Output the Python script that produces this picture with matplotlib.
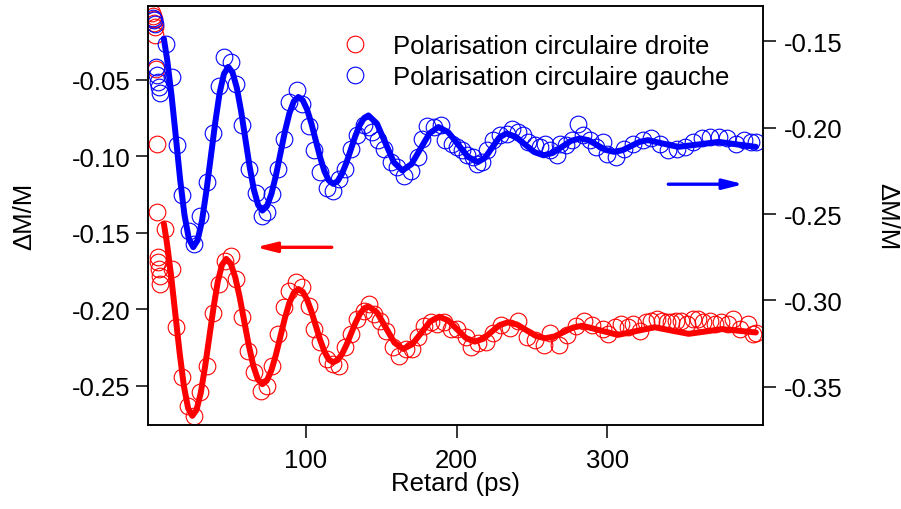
import matplotlib
matplotlib.use('Agg')
import matplotlib.pyplot as plt
from matplotlib.ticker import FormatStrFormatter

plt.rcParams['font.family'] = ['Liberation Sans', 'DejaVu Sans']
plt.rcParams['axes.unicode_minus'] = False

# donnees : retard (ps) et dM/M
# polarisation droite -> axe de gauche
droite_t = [-2.0, -1.6, -1.2, -0.8, -0.4, 0.0, 0.4, 0.8, 1.2, 1.6, 2.0, 2.4, 2.8, 3.2,
            6.3, 10.8, 13.8, 17.8, 21.8, 25.6, 29.6, 34.0, 38.2, 42.2,
            46.2, 50.0, 53.3, 57.7, 61.7, 65.4, 69.9, 73.9, 77.6, 81.6,
            85.4, 88.7, 93.2, 97.5, 102.0, 105.3, 109.3, 113.8, 118.1, 121.9,
            125.7, 129.7, 134.1, 138.5, 141.9, 145.2, 149.0, 153.0, 157.4, 161.8,
            166.3, 170.2, 174.0, 178.4, 182.9, 187.2, 191.7, 196.1, 200.5, 206.2,
            209.6, 214.0, 219.6, 224.1, 229.7, 235.3, 240.9, 246.4, 252.1, 257.7,
            262.1, 267.7, 273.3, 278.9, 284.5, 290.1,
            297.2, 300.5, 305.0, 309.4, 313.8, 317.1, 321.6, 326.0, 329.3, 332.7,
            336.0, 339.3, 342.6, 345.9, 349.2, 352.6, 356.9, 360.3, 363.6, 368.0,
            371.3, 375.8, 380.2, 383.5, 387.9, 393.4, 396.7, 399.0]
droite_v = [-0.0062, -0.0081, -0.0101, -0.0127, -0.0153, -0.0210, -0.0428, -0.0919,
            -0.1366, -0.1660, -0.1693, -0.1737, -0.1781, -0.1835,
            -0.1475, -0.1737, -0.2119, -0.2446, -0.2632, -0.2697, -0.2544, -0.2370, -0.2027, -0.1835,
            -0.1683, -0.1650, -0.1802, -0.2053, -0.2272, -0.2413, -0.2533, -0.2501, -0.2370, -0.2162,
            -0.1988, -0.1879, -0.1824, -0.1857, -0.1977, -0.2130, -0.2217, -0.2326, -0.2359, -0.2370,
            -0.2249, -0.2162, -0.2064, -0.2010, -0.1966, -0.2031, -0.2075, -0.2141, -0.2249, -0.2304,
            -0.2260, -0.2260, -0.2184, -0.2108, -0.2086, -0.2097, -0.2086, -0.2130, -0.2130, -0.2179,
            -0.2245, -0.2223, -0.2212, -0.2157, -0.2102, -0.2124, -0.2080, -0.2179, -0.2201, -0.2234,
            -0.2157, -0.2234, -0.2168, -0.2113, -0.2080, -0.2102,
            -0.2130, -0.2162, -0.2119, -0.2097, -0.2119, -0.2097, -0.2141, -0.2086, -0.2075, -0.2064,
            -0.2075, -0.2086, -0.2086, -0.2075, -0.2075, -0.2097, -0.2064, -0.2064, -0.2086, -0.2075,
            -0.2097, -0.2086, -0.2097, -0.2064, -0.2130, -0.2097, -0.2162, -0.2157]

# ajustement (courbe epaisse) polarisation droite
droite_fit_t = [5.6, 7.6, 10.4, 13.25, 16.1, 18.9, 21.7, 24.5, 27.3, 30.1, 32.9, 35.75,
                38.6, 41.4, 44.2, 47.0, 50.0, 53.0, 56.0, 59.0, 62.0, 65.0, 68.0, 71.0,
                74.0, 77.0, 80.0, 82.95, 85.9, 88.9, 91.9, 94.9, 97.8, 100.7, 103.6, 106.45,
                109.3, 112.2, 115.1, 118.0, 120.9, 123.85, 126.8, 129.7, 132.6, 135.55, 138.5, 141.4,
                147.2, 152.95, 158.7, 164.5, 170.5, 176.45, 182.4, 188.4, 194.3, 200.2, 206.1, 212.0,
                217.5, 223.0, 228.5, 234.0, 240.2, 246.4, 252.6, 258.8, 265.0, 271.1, 277.2, 283.4,
                295.2, 307.0, 319.25, 331.5, 342.75, 354.0, 365.0, 376.0, 387.3, 398.6]
droite_fit_v = [-0.1440, -0.1564, -0.1780, -0.2034, -0.2287, -0.2503, -0.2647, -0.2697,
                -0.2658, -0.2547, -0.2380, -0.2184, -0.1988, -0.1821, -0.1710, -0.1671,
                -0.1702, -0.1791, -0.1924, -0.2081, -0.2237, -0.2370, -0.2459, -0.2490,
                -0.2466, -0.2399, -0.2298, -0.2179, -0.2060, -0.1959, -0.1892, -0.1868,
                -0.1886, -0.1938, -0.2016, -0.2108, -0.2199, -0.2277, -0.2329, -0.2347,
                -0.2333, -0.2294, -0.2234, -0.2164, -0.2094, -0.2034, -0.1995, -0.1981,
                -0.2022, -0.2121, -0.2219, -0.2260, -0.2229, -0.2155, -0.2080, -0.2049,
                -0.2073, -0.2131, -0.2188, -0.2212, -0.2194, -0.2149, -0.2104, -0.2086,
                -0.2101, -0.2138, -0.2175, -0.2190, -0.2178, -0.2149, -0.2120, -0.2108,
                -0.2138, -0.2168, -0.2143, -0.2118, -0.2140, -0.2161, -0.2146, -0.2130,
                -0.2141, -0.2152]

# polarisation gauche -> axe de droite
gauche_t = [-1.6, -1.0, -0.4, 0.4, 1.0, 1.6, 2.2, 2.8,
            6.8, 11.2, 14.1, 17.8, 22.3, 25.6, 29.6, 34.0, 38.2, 42.2,
            45.7, 50.0, 53.7, 57.7, 62.1, 66.6, 70.6, 73.9, 77.6, 81.6,
            85.4, 88.7, 93.8, 97.5, 102.0, 105.3, 109.3, 113.8, 118.1, 121.9,
            125.7, 129.7, 134.1, 138.5, 141.5, 144.0, 148.0, 151.8, 156.3, 160.7,
            165.1, 169.6, 174.0, 177.3, 180.6, 185.0, 189.5,
            192.2, 196.6, 199.9, 203.3, 206.6, 211.0, 213.2, 216.5, 219.8, 224.2,
            228.7, 233.1, 236.4, 240.8, 244.1, 247.4, 251.9, 255.2, 258.5, 261.8,
            266.3, 268.5, 272.9, 276.3, 280.6, 283.9, 288.4, 292.8, 297.2,
            300.1, 305.8, 311.4, 316.9, 323.7, 329.3, 334.8, 340.5, 346.0, 351.6,
            357.2, 362.8, 368.4, 374.0, 379.6, 385.2, 390.8, 395.2, 399.0]
gauche_v = [-0.1365, -0.1378, -0.1397, -0.1648, -0.1697, -0.1735, -0.1764, -0.1797,
            -0.1513, -0.1706, -0.2099, -0.2389, -0.2601, -0.2673, -0.2509, -0.2312, -0.2029, -0.1761,
            -0.1590, -0.1619, -0.1745, -0.1983, -0.2238, -0.2379, -0.2509, -0.2489, -0.2383, -0.2238,
            -0.2064, -0.1851, -0.1784, -0.1861, -0.1993, -0.2128, -0.2257, -0.2350, -0.2364, -0.2296,
            -0.2238, -0.2122, -0.2045, -0.1987, -0.1996, -0.2025, -0.2074, -0.2122, -0.2199, -0.2228,
            -0.2277, -0.2248, -0.2170, -0.2064, -0.1990, -0.1996, -0.1987,
            -0.2074, -0.2093, -0.2112, -0.2132, -0.2161, -0.2170, -0.2209, -0.2199, -0.2132, -0.2074,
            -0.2045, -0.2035, -0.2006, -0.2025, -0.2045, -0.2083, -0.2103, -0.2112, -0.2093, -0.2132,
            -0.2161, -0.2093, -0.2103, -0.2074, -0.1977, -0.2045, -0.2074, -0.2112, -0.2083,
            -0.2150, -0.2170, -0.2121, -0.2092, -0.2072, -0.2062, -0.2092, -0.2131, -0.2121, -0.2111,
            -0.2082, -0.2062, -0.2052, -0.2052, -0.2062, -0.2092, -0.2072, -0.2082, -0.2082]

gauche_fit_t = [5.6, 7.8, 10.7, 13.6, 16.4, 19.3, 22.2, 25.1, 28.0, 30.9, 33.8, 36.75,
                39.7, 42.6, 45.5, 48.4, 51.2, 54.05, 56.9, 59.7, 62.5, 65.35, 68.2, 71.0,
                74.0, 77.0, 80.0, 82.95, 85.9, 88.9, 91.9, 94.9, 97.8, 100.7, 103.6, 106.45,
                109.3, 112.2, 115.1, 118.0, 120.9, 123.85, 126.8, 129.7, 132.6, 135.55, 138.5, 141.4,
                147.05, 152.7, 158.35, 164.0, 170.0, 175.95, 181.9, 187.9, 194.4, 201.0, 207.5, 214.0,
                218.75, 223.5, 228.25, 233.0, 239.2, 245.35, 251.5, 257.7, 263.8, 269.85, 275.9, 282.0,
                287.65, 293.3, 298.95, 304.6, 310.2, 315.8, 321.4, 327.0, 337.0, 347.0, 360.5, 374.0,
                386.3, 398.6]
gauche_fit_v = [-0.1484, -0.1606, -0.1813, -0.2056, -0.2299, -0.2506, -0.2644, -0.2692,
                -0.2652, -0.2540, -0.2369, -0.2170, -0.1971, -0.1800, -0.1688, -0.1648,
                -0.1680, -0.1769, -0.1905, -0.2064, -0.2223, -0.2359, -0.2448, -0.2480,
                -0.2455, -0.2384, -0.2277, -0.2151, -0.2025, -0.1918, -0.1847, -0.1822,
                -0.1841, -0.1895, -0.1977, -0.2074, -0.2170, -0.2252, -0.2306, -0.2325,
                -0.2310, -0.2267, -0.2203, -0.2127, -0.2051, -0.1987, -0.1944, -0.1929,
                -0.1976, -0.2089, -0.2201, -0.2248, -0.2211, -0.2122, -0.2033, -0.1996,
                -0.2026, -0.2098, -0.2169, -0.2199, -0.2175, -0.2116, -0.2057, -0.2033,
                -0.2052, -0.2097, -0.2141, -0.2160, -0.2146, -0.2111, -0.2076, -0.2062,
                -0.2073, -0.2101, -0.2129, -0.2140, -0.2130, -0.2106, -0.2082, -0.2072,
                -0.2092, -0.2111, -0.2097, -0.2082, -0.2097, -0.2111]

fs = 18.5

fig = plt.figure(figsize=(9.01, 5.10), dpi=100)
ax = fig.add_axes([0.1643, 0.1647, 0.6826, 0.8216])
ax2 = ax.twinx()

h1, = ax.plot(droite_t, droite_v, 'o', mfc='none', mec='red', ms=12, mew=0.8,
              label='Polarisation circulaire droite')
ax.plot(droite_fit_t, droite_fit_v, '-', color='red', lw=4.3, solid_capstyle='round')
h2, = ax2.plot(gauche_t, gauche_v, 'o', mfc='none', mec='blue', ms=12, mew=0.8,
               label='Polarisation circulaire gauche')
ax2.plot(gauche_fit_t, gauche_fit_v, '-', color='blue', lw=4.3, solid_capstyle='round')

ax.set_xlim(-4.9, 403.4)
ax.set_ylim(-0.2757, -0.0018)
ax2.set_ylim(-0.3722, -0.1295)

ax.set_xticks([100, 200, 300])
ax.set_yticks([-0.25, -0.20, -0.15, -0.10, -0.05])
ax2.set_yticks([-0.35, -0.30, -0.25, -0.20, -0.15])
ax.yaxis.set_major_formatter(FormatStrFormatter('%.2f'))
ax2.yaxis.set_major_formatter(FormatStrFormatter('%.2f'))

for a in (ax, ax2):
    a.tick_params(direction='out', length=9, width=1.1, labelsize=fs)
    for s in a.spines.values():
        s.set_linewidth(1.1)
ax.tick_params(axis='y', right=False, pad=3.5)
ax.tick_params(axis='x', top=False, pad=7.5)
ax2.tick_params(axis='y', pad=6)

ax.set_xlabel('Retard (ps)', fontsize=fs)
ax.xaxis.set_label_coords(0.5, -0.1105)
fig.text(24 / 901, 1 - 216.5 / 510, 'ΔM/M', rotation=90, ha='center', va='center', fontsize=fs)
fig.text(887 / 901, 1 - 216.5 / 510, 'ΔM/M', rotation=270, ha='center', va='center', fontsize=fs)

# fleches : quelle courbe va avec quel axe
ax2.annotate('', xy=(0.1754, 0.4241), xytext=(0.2987, 0.4241), xycoords='axes fraction',
             arrowprops=dict(arrowstyle='-|>,head_length=0.6,head_width=0.15', color='red',
                             lw=2.4, mutation_scale=20, shrinkA=0, shrinkB=0))
ax2.annotate('', xy=(0.9685, 0.5747), xytext=(0.8459, 0.5747), xycoords='axes fraction',
             arrowprops=dict(arrowstyle='-|>,head_length=0.6,head_width=0.15', color='blue',
                             lw=2.4, mutation_scale=20, shrinkA=0, shrinkB=0))

ax2.legend(handles=[h1, h2], loc='upper left', bbox_to_anchor=(342.5 / 901, 1 - 35 / 510),
           bbox_transform=fig.transFigure, frameon=False, borderpad=0, borderaxespad=0,
           handlelength=0.97, handletextpad=0.99, labelspacing=0.26, fontsize=fs)

fig.savefig('out.png', dpi=100)
